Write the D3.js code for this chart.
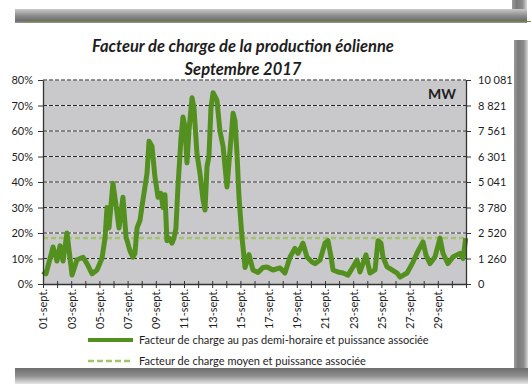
<!DOCTYPE html>
<html><head><meta charset="utf-8">
<script src="https://cdn.jsdelivr.net/npm/d3@7"></script>
<style>
html,body{margin:0;padding:0;background:#fff;}
svg{display:block;}
text{font-family:Lato,"Open Sans",sans-serif;fill:#1e1e1e;}
</style></head><body>
<svg id="chart" width="531" height="392"></svg>
<script>
// ---- data ----
const startDate = new Date(2017, 8, 1);          // 01-sept 2017 00:00
const endDate = new Date(2017, 9, 1);            // 01-oct 2017 00:00
// time of each sample, in days since 01-sept 00:00
const dayOffsets = [0,0.21,0.50,0.71,0.99,1.21,1.42,1.70,2.06,2.41,
  2.84,3.12,3.48,3.83,4.18,4.40,4.54,4.68,4.96,5.25,
  5.39,5.67,5.89,6.17,6.38,6.52,6.67,6.88,7.09,7.38,
  7.52,7.73,7.94,8.16,8.37,8.51,8.65,8.79,8.94,9.15,
  9.29,9.43,9.57,9.79,9.93,10.07,10.21,10.35,10.57,10.71,
  10.92,11.13,11.35,11.49,11.63,11.77,11.91,12.06,12.34,12.55,
  12.77,13.05,13.19,13.48,13.62,13.76,13.90,14.11,14.33,14.61,
  14.89,15.25,15.60,15.89,16.31,16.81,17.16,17.52,17.87,18.09,
  18.44,18.72,19.08,19.29,19.65,20.00,20.21,20.43,20.57,20.92,
  21.28,21.63,21.99,22.27,22.48,22.91,23.19,23.55,23.76,23.97,
  24.11,24.40,24.75,25.11,25.32,25.82,26.24,26.60,26.95,27.16,
  27.45,27.80,28.16,28.37,28.72,29.08,29.57,29.79,29.98];
// load factor (%) at half-hour step
const loadFactor = [5,4,10,14.5,9,15,9,20,3.5,9.5,
  10.5,8,4,5.5,10,18,30,22,39.5,28,
  22,34,18.5,13,10.5,12,22,25,33,43.5,
  56,54,42,34,35.5,30,35,17,18,16,
  18,22,38,57.5,65.5,61.5,47.5,60,73,69,
  51,43.5,33,29,46,50,69,75,72,60,
  54,38,47.5,67,64,51,34,18.5,6.5,11.5,
  5.5,4.5,6.5,6.7,5.5,6.3,4.3,10.6,14,12,
  16,10.6,8.6,8,9.4,16,17,10.6,5.5,4.7,
  4.3,3.5,6.7,9.4,4.7,11.4,4.3,5.5,17,16,
  10.6,6.7,5.5,4.3,2.7,4.3,8.6,13,16.5,11.4,
  8,10.6,18,12,8,10.6,12,10,18];
const meanLoadFactor = 18;                        // %
const leftTicks = [0,10,20,30,40,50,60,70,80];     // %
const rightTicks = [0,1260,2520,3780,5041,6301,7561,8821,10081]; // MW
const rightMax = 10081;
const titleLines = ["Facteur de charge de la production éolienne", "Septembre 2017"];
const unitLabel = "MW";
const legendLabels = ["Facteur de charge au pas demi-horaire et puissance associée",
                      "Facteur de charge moyen et puissance associée"];

// ---- layout ----
const L = 43, R = 466, T = 80, B = 284;
const dark = "#54901f", light = "#a3c46a";

const svg = d3.select("#chart");
const defs = svg.append("defs");
function vgrad(id, stops, horiz){
  const g = defs.append("linearGradient").attr("id", id)
    .attr("x1",0).attr("y1",0).attr("x2",horiz?1:0).attr("y2",horiz?0:1);
  stops.forEach(s => g.append("stop").attr("offset", s[0]).attr("stop-color", s[1]));
}
vgrad("topShadow", [[0,"#c9c9c9"],[0.5,"#8a8a8a"],[0.85,"#6d6d6d"],[1,"#9a9a9a"]]);
vgrad("sideShadow", [[0,"#9a9a9a"],[0.3,"#7a7a7a"],[0.7,"#8c8c8c"],[1,"#d8d8d8"]], true);
vgrad("botShadow", [[0,"#6e6e6e"],[0.5,"#8e8e8e"],[1,"#e6e6e6"]]);

// frame decorations
svg.append("rect").attr("x",512).attr("y",0).attr("width",15).attr("height",16).attr("fill","url(#sideShadow)");
svg.append("rect").attr("x",15).attr("y",9).attr("width",512).attr("height",14).attr("fill","url(#topShadow)");
svg.append("line").attr("x1",25).attr("x2",531).attr("y1",21.5).attr("y2",21.5).attr("stroke","#6f8c32").attr("stroke-width",1.2);
svg.append("rect").attr("x",514).attr("y",40).attr("width",14).attr("height",342).attr("fill","url(#sideShadow)");
svg.append("rect").attr("x",15).attr("y",368).attr("width",513).attr("height",16).attr("fill","url(#botShadow)");

// scales
const x = d3.scaleTime().domain([startDate, endDate]).range([L, R]);
const y = d3.scaleLinear().domain([0, 80]).range([B, T]);
const y2 = d3.scaleLinear().domain([0, rightMax]).range([B, T]);
const toDate = d => new Date(startDate.getTime() + d * 864e5);

// plot background
svg.append("rect").attr("x",L).attr("y",T).attr("width",R-L).attr("height",B-T).attr("fill","#c9c9cb");

// gridlines
const grid = svg.append("g");
leftTicks.filter(v => v > 0).forEach(v => {
  grid.append("line").attr("x1",L).attr("x2",R).attr("y1",y(v)).attr("y2",y(v))
    .attr("stroke","#f2f2f2").attr("stroke-width",1);
  grid.append("line").attr("x1",L).attr("x2",R).attr("y1",y(v)).attr("y2",y(v))
    .attr("stroke","#2a2a2a").attr("stroke-width",1).attr("stroke-dasharray","4,2");
});

// mean line
svg.append("line").attr("x1",L).attr("x2",R).attr("y1",y(meanLoadFactor)).attr("y2",y(meanLoadFactor))
  .attr("stroke",light).attr("stroke-width",2.5).attr("stroke-dasharray","5,3");

// series
const pts = dayOffsets.map((d,i) => [toDate(d), loadFactor[i]]);
const line = d3.line().x(p => x(p[0])).y(p => y(p[1]));
svg.append("path").datum(pts).attr("d", line).attr("fill","none")
  .attr("stroke", dark).attr("stroke-width", 5).attr("stroke-linejoin","round");

// axes
const fr = d3.formatLocale({decimal:",", thousands:"\u00a0", grouping:[3], currency:["","€"]});
const fmtMW = fr.format(",d");

const ax = svg.append("g").attr("transform",`translate(${L},0)`)
  .call(d3.axisLeft(y).tickValues(leftTicks).tickFormat(d => d + "%").tickSize(5).tickSizeOuter(0).tickPadding(5));
const ax2 = svg.append("g").attr("transform",`translate(${R},0)`)
  .call(d3.axisRight(y2).tickValues(rightTicks).tickFormat(fmtMW).tickSize(5).tickSizeOuter(0).tickPadding(7));
const allDays = d3.timeDay.range(startDate, d3.timeDay.offset(endDate, 1));
const axb = svg.append("g").attr("transform",`translate(0,${B})`)
  .call(d3.axisBottom(x).tickValues(allDays).tickSize(4).tickSizeOuter(0)
    .tickFormat(d => (d.getDate() % 2 === 1 && d.getMonth() === 8) ? d3.timeFormat("%d")(d) + "-sept." : ""));
axb.selectAll(".tick line").attr("y1", -3);
axb.selectAll(".tick text").attr("transform","rotate(-90)").attr("text-anchor","end")
  .attr("x",-5).attr("y",0).attr("dy","0.35em");
[ax, ax2, axb].forEach(g => {
  g.selectAll("text").style("font-family","Lato, 'Open Sans', sans-serif").style("font-size","11px").attr("fill","#1e1e1e");
  g.selectAll("line").attr("stroke","#333");
  g.select(".domain").attr("stroke","#333").attr("stroke-width",1.3);
});

// MW label
svg.append("text").attr("x",456).attr("y",99).attr("text-anchor","end")
  .style("font-weight","bold").style("font-size","14px").text(unitLabel);

// title
svg.selectAll(".title").data(titleLines).join("text").attr("class","title")
  .attr("x",243).attr("y",(d,i) => 52 + i*23).attr("text-anchor","middle")
  .style("font-weight","bold").style("font-style","italic").style("font-size","16.5px")
  .attr("fill","#222").text(d => d);

// legend
const lg = svg.append("g");
legendLabels.forEach((t,i) => {
  const yy = 340 + i*21;
  lg.append("line").attr("x1",88).attr("x2",133).attr("y1",yy).attr("y2",yy)
    .attr("stroke", i===0 ? dark : light).attr("stroke-width", i===0 ? 4 : 2.5)
    .attr("stroke-dasharray", i===0 ? null : "6,3");
  lg.append("text").attr("x",139).attr("y",yy).attr("dy","0.35em")
    .style("font-size","11px").text(t);
});
</script>
</body></html>
